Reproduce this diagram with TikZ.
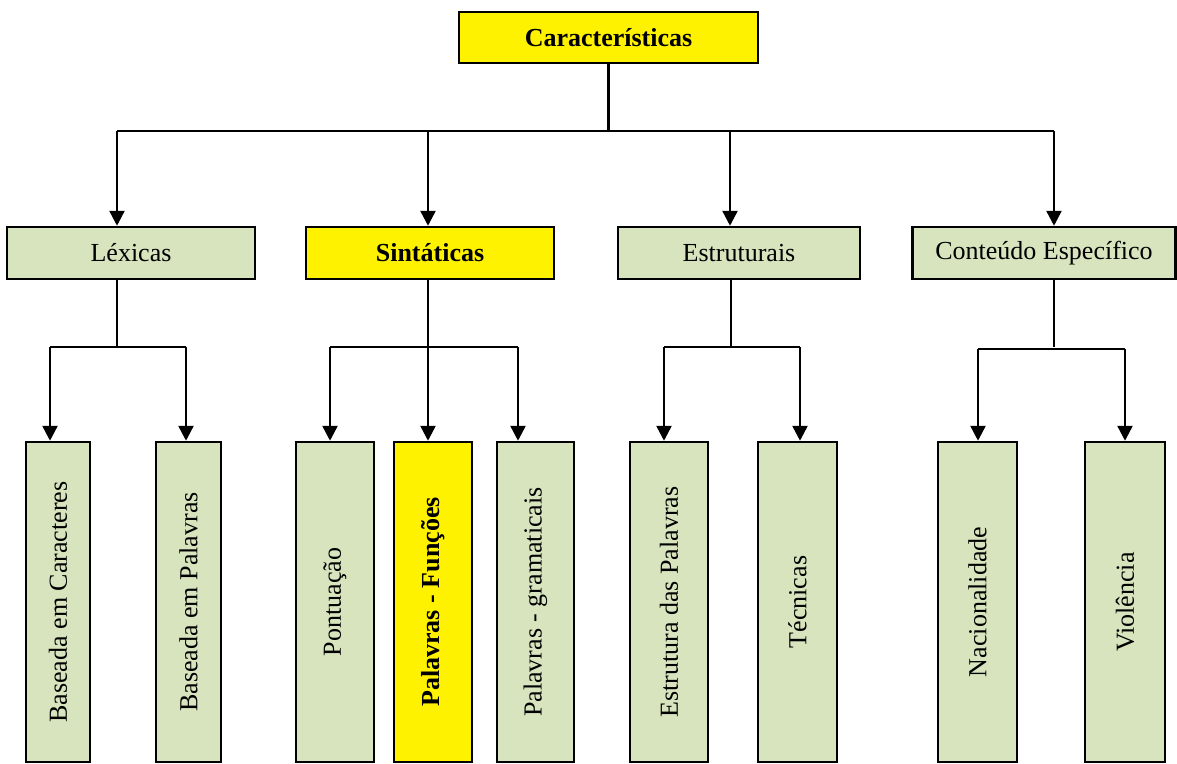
\documentclass[tikz,border=0pt]{standalone}
\usepackage{fontspec}
\setmainfont{Liberation Serif}
\usepackage{graphicx}
\usepackage{xcolor}
\usepackage{tikz}
\usetikzlibrary{arrows.meta, positioning, calc}
\definecolor{leafgreen}{HTML}{D7E4BD}
\tikzset{
  mainbox/.style={draw, line width=2.5pt, fill=yellow, inner sep=0pt, minimum height=51pt},
  catbox/.style={draw, line width=2.5pt, fill=leafgreen, inner sep=0pt, minimum height=52pt},
  leafbox/.style={draw, line width=2.5pt, fill=leafgreen, inner sep=0pt, minimum height=320pt},
  hilite/.style={fill=yellow, font=\fontsize{26}{30}\selectfont\bfseries},
  link/.style={line width=2.5pt},
  arrow/.style={-{Triangle[length=15pt,width=15pt]}, line width=2.5pt},
  every node/.style={font=\fontsize{26}{30}\selectfont}
}

\begin{document}
\begin{tikzpicture}[x=1pt, y=-1pt]
    \useasboundingbox (0,0) rectangle (1177,763);
    % root
    \node[mainbox, minimum width=299pt, font=\fontsize{26}{30}\selectfont\bfseries] (carac) at (608.5,37.5) {Características};
    % categories
    \node[catbox, minimum width=248pt] (lex) at (131,253) {Léxicas};
    \node[catbox, hilite, minimum width=248pt] (sint) at (430,253) {Sintáticas};
    \node[catbox, minimum width=242pt] (estr) at (739,253) {Estruturais};
    \node[catbox, minimum width=263pt] (cont) at (1044,253) {Conteúdo Específico};
    % leaves
    \node[leafbox, minimum width=64pt] (lexA) at (58,602) {\rotatebox{90}{Baseada em Caracteres}};
    \node[leafbox, minimum width=65pt] (lexB) at (188.5,602) {\rotatebox{90}{Baseada em Palavras}};
    \node[leafbox, minimum width=78pt] (sintA) at (335,602) {\rotatebox{90}{Pontuação}};
    \node[leafbox, hilite, minimum width=78pt] (sintB) at (433,602) {\rotatebox{90}{Palavras - Funções}};
    \node[leafbox, minimum width=77pt] (sintC) at (535.5,602) {\rotatebox{90}{Palavras - gramaticais}};
    \node[leafbox, minimum width=78pt] (estrA) at (669,602) {\rotatebox{90}{Estrutura das Palavras}};
    \node[leafbox, minimum width=79pt] (estrB) at (797.5,602) {\rotatebox{90}{Técnicas}};
    \node[leafbox, minimum width=79pt] (contA) at (977.5,602) {\rotatebox{90}{Nacionalidade}};
    \node[leafbox, minimum width=80pt] (contB) at (1125,602) {\rotatebox{90}{Violência}};

    % top bus
    \coordinate (topL) at (117,131);
    \coordinate (topR) at (1054,131);
    \coordinate (topS) at (428,131);
    \coordinate (topE) at (730,131);
    \draw[link] (carac.south) -- (carac.south |- topL);
    \draw[link] (topL) -- (topR);
    \draw[arrow] (topL) -- (topL |- lex.north);
    \draw[arrow] (topS) -- (topS |- sint.north);
    \draw[arrow] (topE) -- (topE |- estr.north);
    \draw[arrow] (topR) -- (topR |- cont.north);

    % Lexicas branch
    \coordinate (lexL) at (50,347);
    \coordinate (lexR) at (186,347);
    \draw[link] (lex.south -| 117,0) -- (117,347);
    \draw[link] (lexL) -- (lexR);
    \draw[arrow] (lexL) -- (lexL |- lexA.north);
    \draw[arrow] (lexR) -- (lexR |- lexB.north);

    % Sintaticas branch
    \coordinate (sintL) at (330,347);
    \coordinate (sintM) at (428,347);
    \coordinate (sintR) at (518,347);
    \draw[link] (sintL) -- (sintR);
    \draw[arrow] (sint.south -| sintM) -- (sintM |- sintB.north);
    \draw[arrow] (sintL) -- (sintL |- sintA.north);
    \draw[arrow] (sintR) -- (sintR |- sintC.north);

    % Estruturais branch
    \coordinate (estrL) at (664,347);
    \coordinate (estrR) at (800,347);
    \draw[link] (estr.south -| 731,0) -- (731,347);
    \draw[link] (estrL) -- (estrR);
    \draw[arrow] (estrL) -- (estrL |- estrA.north);
    \draw[arrow] (estrR) -- (estrR |- estrB.north);

    % Conteudo branch
    \coordinate (contL) at (978,349);
    \coordinate (contR) at (1125,349);
    \draw[link] (cont.south -| 1054,0) -- (1054,347);
    \draw[link] (contL) -- (contR);
    \draw[arrow] (contL) -- (contL |- contA.north);
    \draw[arrow] (contR) -- (contR |- contB.north);
\end{tikzpicture}
\end{document}
